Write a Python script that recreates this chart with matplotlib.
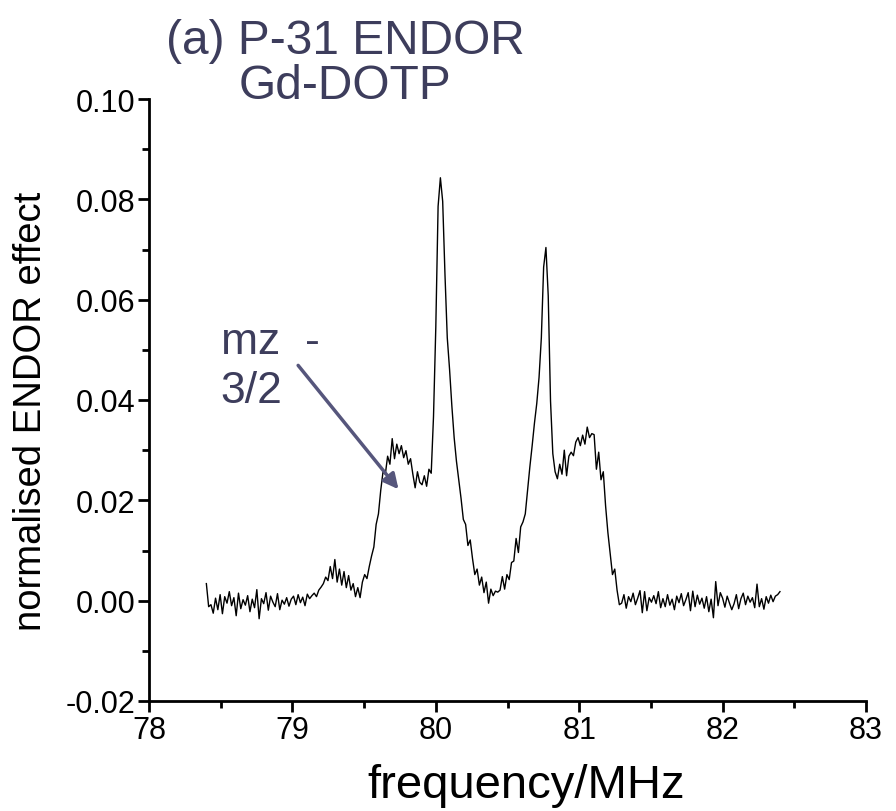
import numpy as np
import matplotlib
matplotlib.use("Agg")
import matplotlib.pyplot as plt
from matplotlib.ticker import MultipleLocator, FormatStrFormatter

plt.rcParams['font.family'] = ['Liberation Sans', 'DejaVu Sans']

# ENDOR signal (x1000), sampled every 0.016 MHz from 78.40 to 82.40 MHz
baseline_left_x1000 = [
    3.4, -1.2, -0.8, -2.5, 0.5, -1.8, 1.2, -2.6, 0.8, -0.5,
    1.8, -1.0, 0.6, -3.0, 1.5, -1.6, 0.2, -0.9, 1.0, -2.2,
    0.3, -1.4, 2.2, -3.6, 0.4, -0.6, 1.6, -1.9, 0.9, -0.3,
    -1.2, 1.4, -1.8, 0.1, -0.7, 0.6, -1.1, 0.3, 0.9, -0.8,
    1.2, -0.4, 0.7, -1.0, 1.3, 0.4, 1.0,
]
signal_x1000 = [
    1.5, 0.8, 2.1, 2.7, 3.4, 4.7, 4.0, 6.8, 4.4, 8.2,
    3.7, 6.3, 3.1, 5.8, 2.6, 5.0, 2.1, 3.4, 0.8, 2.6,
    0.6, 3.7, 5.2, 4.4, 6.8, 8.9, 10.7, 15.2, 17.3, 22.0,
    25.7, 25.2, 28.8, 27.2, 32.3, 28.3, 31.2, 29.3, 30.9, 28.5,
    29.9, 27.2, 28.3, 25.2, 22.5, 25.7, 23.6, 23.1, 24.9, 22.8,
    26.2, 25.4, 36.7, 54.5, 78.6, 84.3, 79.6, 65.0, 52.4, 46.1,
    38.8, 32.5, 27.8, 24.1, 20.4, 16.2, 15.2, 11.0, 12.1, 8.4,
    5.2, 6.3, 3.1, 4.7, 1.6, 3.7, -0.5, 2.3, 1.0, 1.9,
    1.7, 2.1, 4.8, 2.3, 5.2, 4.2, 7.6, 7.9, 12.4, 9.6,
    14.7, 15.7, 17.3, 22.0, 26.7, 30.9, 35.4, 39.3, 44.5, 52.4,
    66.5, 70.4, 60.8, 39.8, 29.3, 25.7, 24.3, 27.2, 25.2, 30.0,
    24.9, 28.8, 29.6, 28.9, 31.6, 32.5, 30.9, 33.0, 31.2, 34.6,
    32.5, 33.3, 33.1, 26.2, 29.6, 24.1, 25.7, 18.9, 13.6, 9.4,
    5.2, 6.3, 2.1, -0.8,
]
baseline_right_x1000 = [
    -0.5, 1.2, -1.5, 0.8, -0.2, 1.5, -0.8, 0.5, 2.0, -2.4,
    1.8, -2.0, 0.6, -0.3, 1.0, -0.6, 1.8, -1.4, 0.4, -1.2,
    1.2, -0.9, 0.3, -1.8, 0.9, -0.4, 1.4, -1.0, 0.2, 1.6,
    -2.0, 1.9, -1.2, 1.1, -0.7, 0.5, -1.5, 0.8, -2.2, 0.3,
    -3.4, 3.8, -1.0, 1.6, 0.5, -1.3, 0.9, -0.5, -1.8, -0.6,
    1.2, -1.6, 0.4, 1.5, -0.8, 0.9, -0.3, 0.6, -1.4, 3.3,
    -1.2, 0.4, -1.7, 0.8, -0.5, 1.1, -0.2, 0.9, 1.2, 1.8,
]
f_start, f_end = 78.40, 82.40

x_ticks = [78, 79, 80, 81, 82, 83]
y_ticks = [-0.02, 0.00, 0.02, 0.04, 0.06, 0.08, 0.10]

title_text = "(a) P-31 ENDOR\nGd-DOTP"
annot_text = "mz  -\n3/2"
xlabel = "frequency/MHz"
ylabel = "normalised ENDOR effect"

values = np.array(baseline_left_x1000 + signal_x1000 + baseline_right_x1000) / 1000.0
freq = np.linspace(f_start, f_end, len(values))

fig = plt.figure(figsize=(8.96, 8.12), dpi=100)
ax = fig.add_axes([149/896, 1 - 702/812, (866-149)/896, (702-100)/812])

ax.plot(freq, values, color='black', lw=1.0)

ax.set_xlim(78, 83)
ax.set_ylim(-0.02, 0.10)
ax.set_xticks(x_ticks)
ax.set_yticks(y_ticks)
ax.xaxis.set_minor_locator(MultipleLocator(0.5))
ax.yaxis.set_minor_locator(MultipleLocator(0.01))
ax.yaxis.set_major_formatter(FormatStrFormatter('%.2f'))

for s in ['top', 'right']:
    ax.spines[s].set_visible(False)
for s in ['left', 'bottom']:
    ax.spines[s].set_linewidth(2.0)
ax.tick_params(which='major', direction='out', length=8, width=2, labelsize=22, pad=2)
ax.tick_params(which='minor', direction='out', length=5, width=2)

fig.text(526/896, 1 - 798/812, xlabel, fontsize=34, ha='center', va='baseline')
fig.text(31/896, 1 - 411/812, ylabel, fontsize=27.5, rotation=90,
         ha='center', va='center')

txt_color = '#3d3d5c'
fig.text(345/896, 1 - 64/812, title_text, ha='center', va='center',
         fontsize=34.5, color=txt_color, linespacing=0.98)

ax.text(78.50, 0.0397, annot_text, fontsize=32, color=txt_color,
        ha='left', va='baseline', linespacing=1.25)
ax.annotate('', xy=(79.74, 0.0222), xytext=(79.04, 0.0469),
            arrowprops=dict(arrowstyle='-|>,head_length=0.9,head_width=0.45',
                            color='#56567c', lw=2.5, shrinkA=0, shrinkB=0))

fig.savefig('out.png', dpi=100)
